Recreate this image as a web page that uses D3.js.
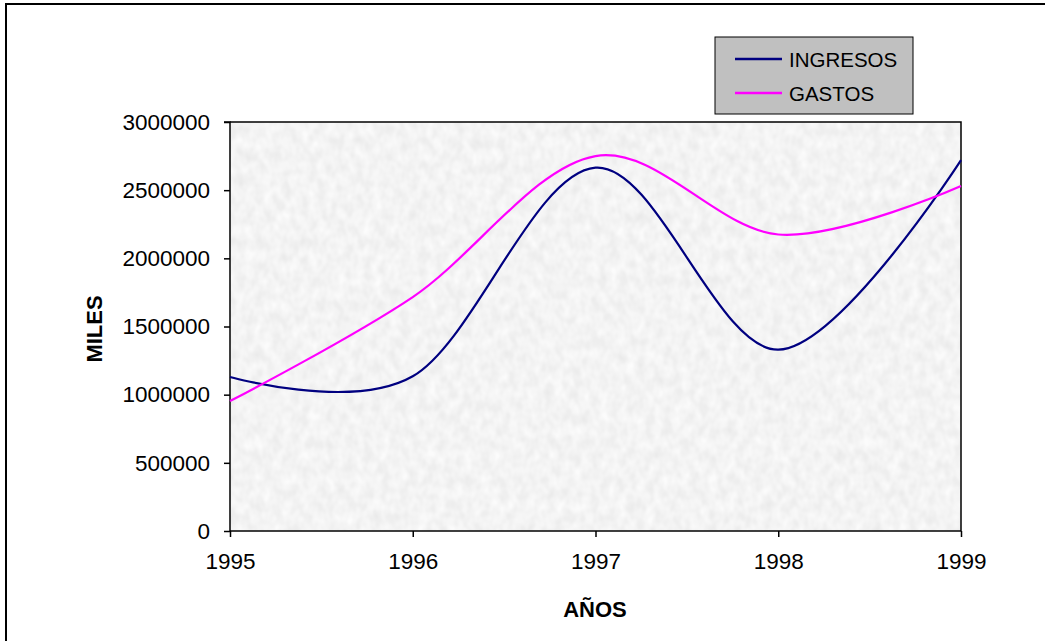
<html>
<head>
<script src="https://d3js.org/d3.v7.min.js"></script>
<style>
    body { margin: 0; background: #fff; }
    text { font-family: "Liberation Sans", Arial, sans-serif; fill: #000; }
</style>
</head>
<body>
<svg id="chart" width="1045" height="641"></svg>
<script>
// data
const years = [1995, 1996, 1997, 1998, 1999];
const ingresos = [1130000, 1135000, 2665000, 1330000, 2720000];
const gastos = [953000, 1716000, 2750000, 2175000, 2530000];
const yTicks = [0, 500000, 1000000, 1500000, 2000000, 2500000, 3000000];
const seriesNames = ["INGRESOS", "GASTOS"];
const seriesColors = ["#000080", "#ff00ff"];

const svg = d3.select("svg#chart");
const plot = { left: 230, right: 961, top: 122, bottom: 531 };

// grainy gray background like the original
const defs = svg.append("defs");
const filt = defs.append("filter").attr("id", "granite")
    .attr("x", 0).attr("y", 0).attr("width", 1).attr("height", 1);
filt.append("feTurbulence").attr("type", "fractalNoise")
    .attr("baseFrequency", "0.11 0.08").attr("numOctaves", 2).attr("seed", 7);
filt.append("feColorMatrix").attr("type", "matrix")
    .attr("values", "0.2 0 0 0 0.8  0.2 0 0 0 0.8  0.2 0 0 0 0.8  0 0 0 0 1");
filt.append("feComposite").attr("in2", "SourceGraphic").attr("operator", "in");

// outer frame
svg.append("rect")
    .attr("x", 6).attr("y", 4).attr("width", 1100).attr("height", 1000)
    .attr("fill", "none").attr("stroke", "#000").attr("stroke-width", 2);

const x = d3.scaleLinear().domain([1995, 1999]).range([plot.left, plot.right]);
const y = d3.scaleLinear().domain([0, 3000000]).range([plot.bottom, plot.top]);

svg.append("rect")
    .attr("x", plot.left).attr("y", plot.top)
    .attr("width", plot.right - plot.left).attr("height", plot.bottom - plot.top)
    .attr("fill", "#e4e4e4").attr("filter", "url(#granite)");

// plot border top / right
svg.append("path")
    .attr("d", `M${plot.left},${plot.top}H${plot.right}V${plot.bottom}`)
    .attr("fill", "none").attr("stroke", "#000").attr("stroke-width", 1.5);

// axes
const yAxis = d3.axisLeft(y).tickValues(yTicks).tickSize(6).tickPadding(14).tickFormat(d3.format("d"));
const yG = svg.append("g").attr("transform", `translate(${plot.left},0)`).call(yAxis);
const xAxis = d3.axisBottom(x).tickValues(years).tickSize(6).tickPadding(16).tickFormat(d3.format("d"));
const xG = svg.append("g").attr("transform", `translate(0,${plot.bottom})`).call(xAxis);
[yG, xG].forEach(g => {
    g.select(".domain").attr("stroke", "#000").attr("stroke-width", 1.5);
    g.selectAll(".tick line").attr("stroke", "#000").attr("stroke-width", 1.5);
    g.selectAll(".tick text")
        .style("font-family", "Liberation Sans, Arial, sans-serif")
        .style("font-size", "22.5px").attr("fill", "#000");
});
yG.select(".domain").attr("d", `M-6,${plot.top}H0V${plot.bottom}`);
xG.select(".domain").attr("d", `M${plot.left},0H${plot.right}`);

// lines, smoothed like Excel
const lineGen = d3.line()
    .x((d, i) => x(years[i]))
    .y(d => y(d))
    .curve(d3.curveCardinal.tension(0));
[ingresos, gastos].forEach((s, i) => {
    svg.append("path").datum(s)
        .attr("fill", "none")
        .attr("stroke", seriesColors[i])
        .attr("stroke-width", 2.2)
        .attr("d", lineGen);
});

// axis titles
svg.append("text")
    .attr("x", 595).attr("y", 617)
    .attr("text-anchor", "middle")
    .style("font-size", "22px").style("font-weight", "bold")
    .text("AÑOS");
svg.append("text")
    .attr("transform", "translate(102,329) rotate(-90)")
    .attr("text-anchor", "middle")
    .style("font-size", "22px").style("font-weight", "bold")
    .text("MILES");

// legend
const legend = svg.append("g").attr("transform", "translate(715,37)");
legend.append("rect")
    .attr("width", 198).attr("height", 77)
    .attr("fill", "#c0c0c0").attr("stroke", "#000").attr("stroke-width", 1);
seriesNames.forEach((name, i) => {
    const ly = 22 + i * 34;
    legend.append("line")
        .attr("x1", 20).attr("x2", 67).attr("y1", ly).attr("y2", ly)
        .attr("stroke", seriesColors[i]).attr("stroke-width", 2.5);
    legend.append("text")
        .attr("x", 74).attr("y", ly + 7.5)
        .style("font-size", "20.5px")
        .text(name);
});
</script>
</body>
</html>
